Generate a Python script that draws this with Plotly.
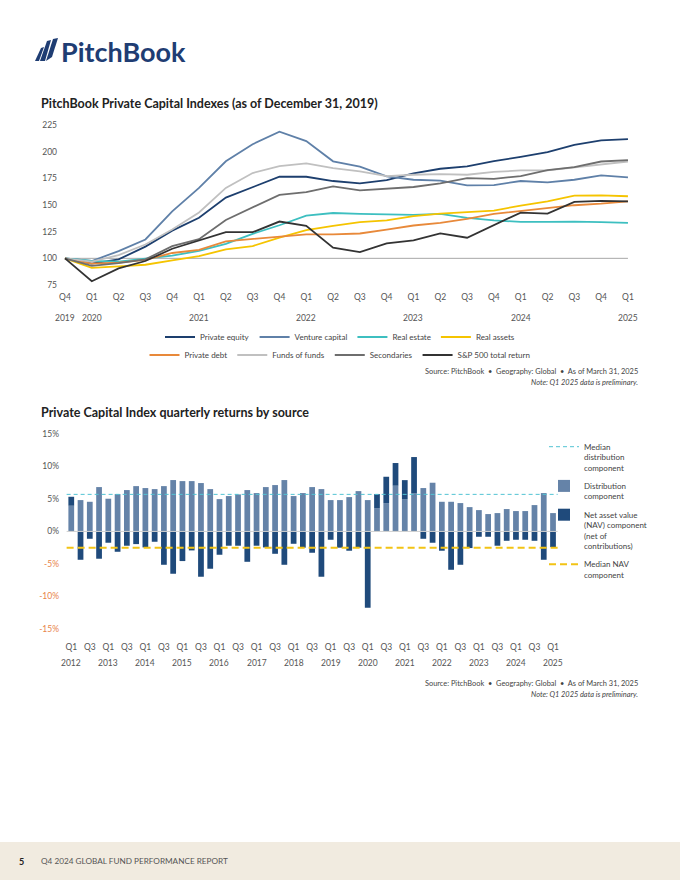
import plotly.graph_objects as go

W, H = 680, 880


def px(x):
    return x / W


def py(y):
    return 1 - y / H


# ---------------- Chart 1 data: PitchBook Private Capital Indexes ----------------
line_periods = ["2019 Q4", "2020 Q1", "2020 Q2", "2020 Q3", "2020 Q4",
                "2021 Q1", "2021 Q2", "2021 Q3", "2021 Q4",
                "2022 Q1", "2022 Q2", "2022 Q3", "2022 Q4",
                "2023 Q1", "2023 Q2", "2023 Q3", "2023 Q4",
                "2024 Q1", "2024 Q2", "2024 Q3", "2024 Q4", "2025 Q1"]

private_equity = [100, 95, 99, 111, 126, 138, 157, 166.5, 176.5, 176.5, 172.5, 170.3,
                  173.4, 179.6, 184, 186.2, 191.1, 195.2, 199.5, 206.4, 210.7, 211.7]
venture_capital = [100, 97.5, 106.8, 117.7, 144, 166, 191, 207, 218.8, 210, 191, 186,
                   176.8, 173.7, 172.8, 168.4, 168.7, 172.5, 171.2, 173.7, 177.8, 175.9]
real_estate = [100, 97.5, 97, 100, 102.5, 107, 113.5, 123, 131, 140, 142.5, 141.7,
               141.4, 140.7, 141.7, 137.9, 135.5, 134.2, 134.2, 134.5, 133.9, 133.3]
real_assets = [100, 91, 92.5, 94, 98, 102, 108.5, 111.5, 119.5, 126.5, 130.5, 133.9,
               135.5, 139.5, 142, 143.2, 144.8, 149.5, 153.5, 158.8, 159.1, 158.2]
private_debt = [100, 95, 96, 98.5, 105, 108, 116, 118, 120.5, 122.5, 122.5, 123.3,
                127, 130.8, 133.3, 137, 141.7, 144.2, 146.7, 149.8, 151.3, 153.5]
funds_of_funds = [100, 97, 103, 113, 127, 143, 166, 180, 186.5, 189, 184.5, 181.5,
                  177, 178.4, 179, 178.4, 181, 182.4, 182.4, 185, 187.7, 190.8]
secondaries = [100, 93, 95.5, 99, 111.5, 118, 136, 147.5, 159.5, 162, 167.5, 163.8,
               165.6, 166.9, 170.3, 175.3, 174.6, 177.1, 182.7, 185.5, 190.8, 192.1]
sp500_total_return = [100, 78.5, 90.5, 97.5, 109, 116.5, 124.5, 124.5, 134.5, 130.5, 110, 105.9,
                      114, 116.8, 123.3, 119.3, 131.1, 142.9, 142, 152.9, 153.8, 153.5]

line_series_names = ["Private equity", "Venture capital", "Real estate", "Real assets",
                     "Private debt", "Funds of funds", "Secondaries", "S&P 500 total return"]
index_base = 100
index_ticks = [75, 100, 125, 150, 175, 200, 225]

# ---------------- Chart 2 data: quarterly returns by source ----------------
bar_periods = [f"{y} Q{q}" for y in range(2012, 2025) for q in range(1, 5)] + ["2025 Q1"]

distribution_component = [3.95, 4.82, 4.56, 6.82, 5.03, 5.74, 6.36, 6.97, 6.67, 6.51, 6.97, 7.9,
                          7.74, 7.74, 7.44, 6.51, 4.97, 5.44, 5.69, 6.36, 5.9, 6.82, 7.13, 7.9,
                          5.44, 5.9, 6.82, 6.51, 4.82, 4.82, 5.28, 6.2, 4.82, 3.59, 4.36, 7.03,
                          4.97, 5.9, 6.67, 7.49, 4.56, 4.56, 4.36, 3.74, 3.28, 2.67, 2.82, 3.44,
                          3.13, 3.13, 4.05, 5.9, 2.82]
nav_component = [1.38, -4.36, -1.13, -4.2, -1.74, -3.13, -2.2, -1.95, -2.46, -1.59, -5.13, -6.51,
                 -4.56, -2.92, -6.97, -5.74, -3.59, -2.2, -2.2, -4.67, -2.2, -2.46, -3.44, -5.13,
                 -1.9, -2.5, -3.28, -6.97, -1.28, -2.5, -2.97, -2.5, -11.74, 2.15, 4.05, 3.49,
                 2.92, 5.54, -1.13, -1.74, -2.97, -5.9, -5.13, -2.56, -0.82, -0.82, -2.2, -1.44,
                 -1.28, -1.28, -1.44, -4.36, -2.41]
median_distribution = 5.7
median_nav = -2.5
return_ticks = [-15, -10, -5, 0, 5, 10, 15]

# ---------------- styles ----------------
line_colors = ["#1d3f6e", "#5f80a8", "#3dbfc0", "#f5c400",
               "#e8893a", "#c0c0c0", "#6e6e6e", "#333333"]
dist_color = "#6583a8"
nav_color = "#1f4a7b"
tick_font = dict(family="Lato, 'Liberation Sans Narrow', sans-serif", size=8.5, color="#555555")
neg_color = "#e8834a"

fig = go.Figure()

line_x = list(range(len(line_periods)))
series_values = [private_equity, venture_capital, real_estate, real_assets,
                 private_debt, funds_of_funds, secondaries, sp500_total_return]
for i, (name, vals, col) in enumerate(zip(line_series_names, series_values, line_colors)):
    fig.add_trace(go.Scatter(
        x=line_x, y=vals, mode="lines", name=name,
        line=dict(color=col, width=1.8),
        legend="legend" if i < 4 else "legend2",
        xaxis="x", yaxis="y", hoverinfo="skip"))

bar_x = list(range(len(bar_periods)))
fig.add_trace(go.Scatter(
    x=[bar_x[0] - 0.5, bar_x[-1] + 0.5], y=[median_distribution] * 2, mode="lines",
    name="Median<br>distribution<br>component", line=dict(color="#52c3d3", width=1, dash="4px,3px"),
    legend="legend3", legendgroup="a", xaxis="x2", yaxis="y2", hoverinfo="skip"))
fig.add_trace(go.Bar(
    x=bar_x, y=distribution_component, name="Distribution<br>component",
    marker=dict(color=dist_color, line=dict(width=0)),
    legend="legend3", legendgroup="b", xaxis="x2", yaxis="y2", hoverinfo="skip"))
fig.add_trace(go.Bar(
    x=bar_x, y=nav_component, name="Net asset value<br>(NAV) component<br>(net of<br>contributions)",
    marker=dict(color=nav_color, line=dict(width=0)),
    legend="legend3", legendgroup="c", xaxis="x2", yaxis="y2", hoverinfo="skip"))
fig.add_trace(go.Scatter(
    x=[bar_x[0] - 0.5, bar_x[-1] + 0.5], y=[median_nav] * 2, mode="lines",
    name="Median NAV<br>component", line=dict(color="#f2c315", width=2, dash="7px,4px"),
    legend="legend3", legendgroup="d", xaxis="x2", yaxis="y2", hoverinfo="skip"))

# axes
line_ticktext = [p.split(" ")[1] for p in line_periods]
bar_tickvals = [i for i, p in enumerate(bar_periods) if p.endswith("Q1") or p.endswith("Q3")]
bar_ticktext = [bar_periods[i].split(" ")[1] for i in bar_tickvals]
ret_ticktext = [f"<span style='color:{neg_color}'>{v}%</span>" if v < 0 else f"{v}%" for v in return_ticks]

legend_font = dict(size=8, color="#444444")
fig.update_layout(
    width=W, height=H, margin=dict(l=0, r=0, t=0, b=0),
    paper_bgcolor="white", plot_bgcolor="white",
    barmode="relative", bargap=0.38,
    font=dict(family="Lato, sans-serif", color="#333333"),
    xaxis=dict(domain=[px(60), px(636)], range=[-0.186, len(line_periods) - 1 + 0.3],
               tickvals=line_x, ticktext=line_ticktext, tickfont=tick_font,
               showgrid=False, zeroline=False, showline=False, ticks="", fixedrange=True),
    yaxis=dict(domain=[py(290), py(118)], range=[70.3, 231.6],
               tickvals=index_ticks, tickfont=tick_font, showgrid=False, zeroline=False,
               showline=False, ticks="", fixedrange=True, ticklabelstandoff=2),
    xaxis2=dict(domain=[px(62), px(562)], range=[-1.0, len(bar_periods) - 1 + 0.97],
                tickvals=bar_tickvals, ticktext=bar_ticktext, tickfont=tick_font,
                showgrid=False, zeroline=False, showline=False, ticks="", fixedrange=True,
                anchor="y2"),
    yaxis2=dict(domain=[py(640), py(430)], range=[-16.7, 15.6],
                tickvals=return_ticks, ticktext=ret_ticktext, tickfont=tick_font,
                showgrid=False, zeroline=False, showline=False, ticks="", fixedrange=True,
                anchor="x2", ticklabelstandoff=2),
    legend=dict(orientation="h", x=0.5, xanchor="center", y=py(337), yanchor="middle",
                font=legend_font, bgcolor="rgba(0,0,0,0)", itemwidth=30),
    legend2=dict(orientation="h", x=0.5, xanchor="center", y=py(355), yanchor="middle",
                 font=legend_font, bgcolor="rgba(0,0,0,0)", itemwidth=30),
    legend3=dict(orientation="v", x=px(544), xanchor="left", y=py(435), yanchor="top",
                 font=legend_font, bgcolor="rgba(0,0,0,0)", itemwidth=30,
                 valign="top", tracegroupgap=5),
    showlegend=True,
)

shapes = []
# index base line at 100
shapes.append(dict(type="line", xref="x", yref="y", x0=line_x[0], x1=line_x[-1],
                   y0=index_base, y1=index_base, line=dict(color="#a8a8a8", width=1), layer="below"))
# zero line in bar chart
shapes.append(dict(type="line", xref="x2", yref="y2", x0=bar_x[0] - 0.5, x1=bar_x[-1] + 0.5,
                   y0=0, y1=0, line=dict(color="#cfcfcf", width=1), layer="above"))
# footer band
shapes.append(dict(type="rect", xref="paper", yref="paper", x0=0, x1=1, y0=0, y1=py(842),
                   fillcolor="#f1ebe0", line=dict(width=0), layer="below"))


# logo sails
def poly(points):
    s = "M " + " L ".join(f"{px(a):.5f},{py(b):.5f}" for a, b in points) + " Z"
    return s


for pts in [[(35, 61), (41, 48), (44, 47), (39, 61)],
            [(40, 61), (47, 41), (51, 40), (45, 61)],
            [(46, 61), (53, 39), (58, 38), (52, 57)]]:
    shapes.append(dict(type="path", xref="paper", yref="paper", path=poly(pts),
                       fillcolor="#1f3d73", line=dict(width=0)))
fig.update_layout(shapes=shapes)

ann = []
ann.append(dict(text="<b>PitchBook</b>", x=px(59), y=py(51), xref="paper", yref="paper",
                xanchor="left", yanchor="middle", showarrow=False,
                font=dict(family="Lato, sans-serif", size=27, color="#1f3d73")))
ann.append(dict(text="<b>PitchBook Private Capital Indexes (as of December 31, 2019)</b>",
                x=px(39), y=py(104), xref="paper", yref="paper", xanchor="left", yanchor="middle",
                showarrow=False, font=dict(family="Lato, sans-serif", size=12.5, color="#222222")))
ann.append(dict(text="<b>Private Capital Index quarterly returns by source</b>",
                x=px(39), y=py(413), xref="paper", yref="paper", xanchor="left", yanchor="middle",
                showarrow=False, font=dict(family="Lato, sans-serif", size=12.5, color="#222222")))
# year labels
for i, p in enumerate(line_periods):
    yr, q = p.split(" ")
    if i == 0 or q == "Q1":
        ann.append(dict(text=yr, x=i, y=py(318), xref="x", yref="paper", xanchor="center",
                        yanchor="middle", showarrow=False, font=tick_font))
for i, p in enumerate(bar_periods):
    yr, q = p.split(" ")
    if q == "Q1":
        ann.append(dict(text=yr, x=i, y=py(663), xref="x2", yref="paper", xanchor="center",
                        yanchor="middle", showarrow=False, font=tick_font))
# sources
src_font = dict(family="Lato, sans-serif", size=7.4, color="#444444")
for ys in (371, 683):
    ann.append(dict(text="Source: PitchBook  •  Geography: Global  •  As of March 31, 2025",
                    x=px(640), y=py(ys), xref="paper", yref="paper", xanchor="right",
                    yanchor="middle", showarrow=False, font=src_font))
    ann.append(dict(text="<i>Note: Q1 2025 data is preliminary.</i>",
                    x=px(640), y=py(ys + 11), xref="paper", yref="paper", xanchor="right",
                    yanchor="middle", showarrow=False, font=src_font))
# footer
ann.append(dict(text="<b>5</b>", x=px(17), y=py(861), xref="paper", yref="paper",
                xanchor="left", yanchor="middle", showarrow=False,
                font=dict(family="Lato, sans-serif", size=9, color="#222222")))
ann.append(dict(text="Q4 2024 GLOBAL FUND PERFORMANCE REPORT", x=px(39), y=py(861),
                xref="paper", yref="paper", xanchor="left", yanchor="middle", showarrow=False,
                font=dict(family="Lato, sans-serif", size=8.2, color="#555555")))
fig.update_layout(annotations=ann)

fig.write_html("out.html", config={"displayModeBar": False, "staticPlot": True},
               post_script="document.body.style.margin='0px';document.body.style.overflow='hidden';")
